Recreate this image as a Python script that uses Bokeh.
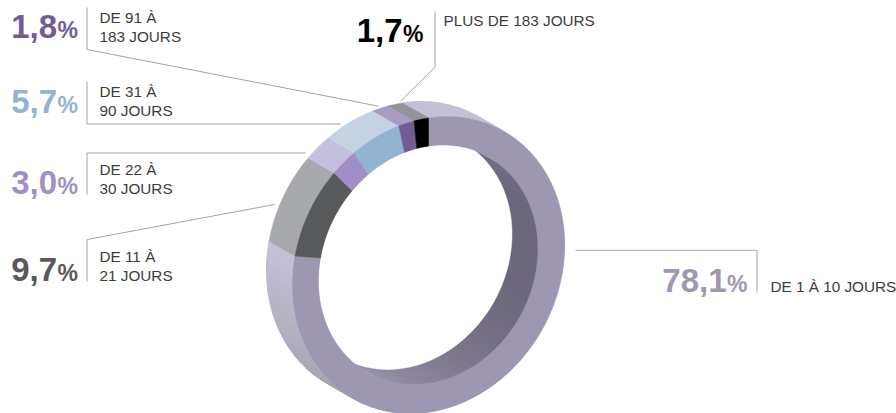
import numpy as np
from bokeh.plotting import figure
from bokeh.models import Range1d
from bokeh.core.properties import value
from bokeh.embed import file_html
from bokeh.resources import INLINE

# ---- data
ranges_line1 = ["DE 1 À 10 JOURS", "DE 11 À", "DE 22 À", "DE 31 À", "DE 91 À", "PLUS DE 183 JOURS"]
ranges_line2 = ["", "21 JOURS", "30 JOURS", "90 JOURS", "183 JOURS", ""]
shares = [78.1, 9.7, 3.0, 5.7, 1.8, 1.7]
share_labels = ["78,1", "9,7", "3,0", "5,7", "1,8", "1,7"]
face_colors = ["#9e97b2", "#58595b", "#a08fc7", "#93b3d0", "#725c94", "#000000"]
wall_colors = ["#c4c0d6", "#a7a9ac", "#c5bfde", "#c4d3e4", "#a99bc3", "#929497"]

# ---- layout (page pixels)
FONT = value("Liberation Sans")
CX, CY = 428.0, 264.5
MAP = np.array([[136.0, 0.0], [-20.0, 147.0]])
HOLE = 0.805
DX, DY = -26.0, -15.0

p = figure(width=896, height=413, output_backend="svg", toolbar_location=None,
           x_range=Range1d(0, 896), y_range=Range1d(413, 0),
           min_border=0, outline_line_color=None, background_fill_color="white",
           border_fill_color="white")
p.axis.visible = False
p.grid.visible = False

inv = np.linalg.inv(MAP * HOLE)


def ring(theta_deg, scale, dx=0.0, dy=0.0):
    t = np.radians(theta_deg)
    u = np.vstack([np.sin(t), -np.cos(t)]) * scale
    xy = MAP @ u
    return xy[0] + CX + dx, xy[1] + CY + dy


def inside(x, y, ox, oy):
    v = inv @ np.vstack([x - CX - ox, y - CY - oy])
    return (v ** 2).sum(axis=0) <= 1.0


def mix(c1, c2, f):
    f = min(max(f, 0.0), 1.0)
    a = [int(c1[i:i + 2], 16) for i in (1, 3, 5)]
    b = [int(c2[i:i + 2], 16) for i in (1, 3, 5)]
    return "#%02x%02x%02x" % tuple(round(x + (y - x) * f) for x, y in zip(a, b))


def quads(th, scale1, scale2, off2, colour_of, only_inside=False):
    xs, ys, cs = [], [], []
    for a, b in zip(th[:-1], th[1:]):
        seg = np.array([a, b])
        x1, y1 = ring(seg, scale1)
        x2, y2 = ring(seg, scale2, *off2)
        if only_inside and not inside(x2, y2, 0, 0).any():
            continue
        xs.append(list(x1) + list(x2[::-1]))
        ys.append(list(y1) + list(y2[::-1]))
        cs.append(colour_of(float(x1.mean()), float(y1.mean())))
    return xs, ys, cs


def draw(xs, ys, cs):
    p.patches(xs, ys, fill_color=cs, line_color=cs, line_width=1.2)


total = sum(shares)
edges = np.cumsum([0.0] + shares) / total * 360.0

# outer wall
for i, (s, e) in enumerate(zip(edges[:-1], edges[1:])):
    if i == 0:
        th = np.linspace(s, e, 71)
        draw(*quads(th, 1.0, 1.0, (DX, DY),
                    lambda x, y: mix(wall_colors[0], "#a5a3b0", (y - 260) / 140)))
    else:
        th = np.linspace(s, e, 25)
        x1, y1 = ring(th, 1.0)
        x2, y2 = ring(th, 1.0, DX, DY)
        p.patch(list(x1) + list(x2[::-1]), list(y1) + list(y2[::-1]),
                fill_color=wall_colors[i], line_color=wall_colors[i], line_width=0.5)

# inner wall
th = np.linspace(0, 360, 91)
draw(*quads(th, HOLE, HOLE, (DX, DY),
            lambda x, y: mix("#9e97b2", "#6c677c", (x - 360) / 170), only_inside=True))

# front face
for i, (s, e) in enumerate(zip(edges[:-1], edges[1:])):
    th = np.linspace(s, e, max(int(e - s), 2) + 1)
    xo, yo = ring(th, 1.0)
    xi, yi = ring(th, HOLE)
    p.patch(list(xo) + list(xi[::-1]), list(yo) + list(yi[::-1]),
            fill_color=face_colors[i], line_color=face_colors[i], line_width=0.5)

# hole: overlap of the front and back openings
th = np.linspace(0, 360, 721)
fx, fy = ring(th, HOLE)
bx, by = ring(th, HOLE, DX, DY)
keep_f = inside(fx, fy, DX, DY)
keep_b = inside(bx, by, 0, 0)
hx = np.concatenate([fx[keep_f], bx[keep_b]])
hy = np.concatenate([fy[keep_f], by[keep_b]])
order = np.argsort(np.arctan2(hy - (CY + DY / 2), hx - (CX + DX / 2)))
p.patch(hx[order], hy[order], fill_color="white", line_color="white", line_width=0.5)

# leader lines
leaders = [
    ([575, 756.5, 756.5], [249.8, 249.8, 292]),
    ([86.5, 86.5, 274], [281, 239, 204]),
    ([86.5, 86.5, 305.5], [194, 152.5, 152.5]),
    ([86.5, 86.5, 340], [81, 123.5, 123.5]),
    ([86.5, 86.5, 378], [7, 49, 105.7]),
    ([434.5, 434.5, 400], [11, 66.7, 100.7]),
]
for lx, ly in leaders:
    p.line(lx, ly, line_color="#a3a3a5", line_width=1)

# big numbers, percent signs, range labels
num_x = [726, 56.5, 56.5, 56.5, 56.5, 402]
num_y = [291.7, 280.7, 194, 112.7, 37.7, 41.7]
lab_x = [770, 99, 99, 99, 99, 443]
lab_y1 = [291.7, 261.7, 175, 97, 22.7, 26]
lab_y2 = [None, 280.7, 194, 115.7, 41.7, None]
SHIFT = 0.36


def put(x, y, s, colour, size, align, style="normal"):
    p.text([x], [y - SHIFT * size], text=[s], text_color=colour, text_font=FONT,
           text_font_style=style, text_font_size=f"{size}px",
           text_align=align, text_baseline="alphabetic")


for i in range(len(shares)):
    put(num_x[i], num_y[i], share_labels[i], face_colors[i], 33, "right", "bold")
    put(num_x[i] + 0.5, num_y[i], "%", face_colors[i], 23, "left", "bold")
    put(lab_x[i], lab_y1[i], ranges_line1[i], "#3c3c3e", 15.3, "left")
    if ranges_line2[i]:
        put(lab_x[i], lab_y2[i], ranges_line2[i], "#3c3c3e", 15.3, "left")

open("out.html", "w").write(file_html(p, INLINE))
